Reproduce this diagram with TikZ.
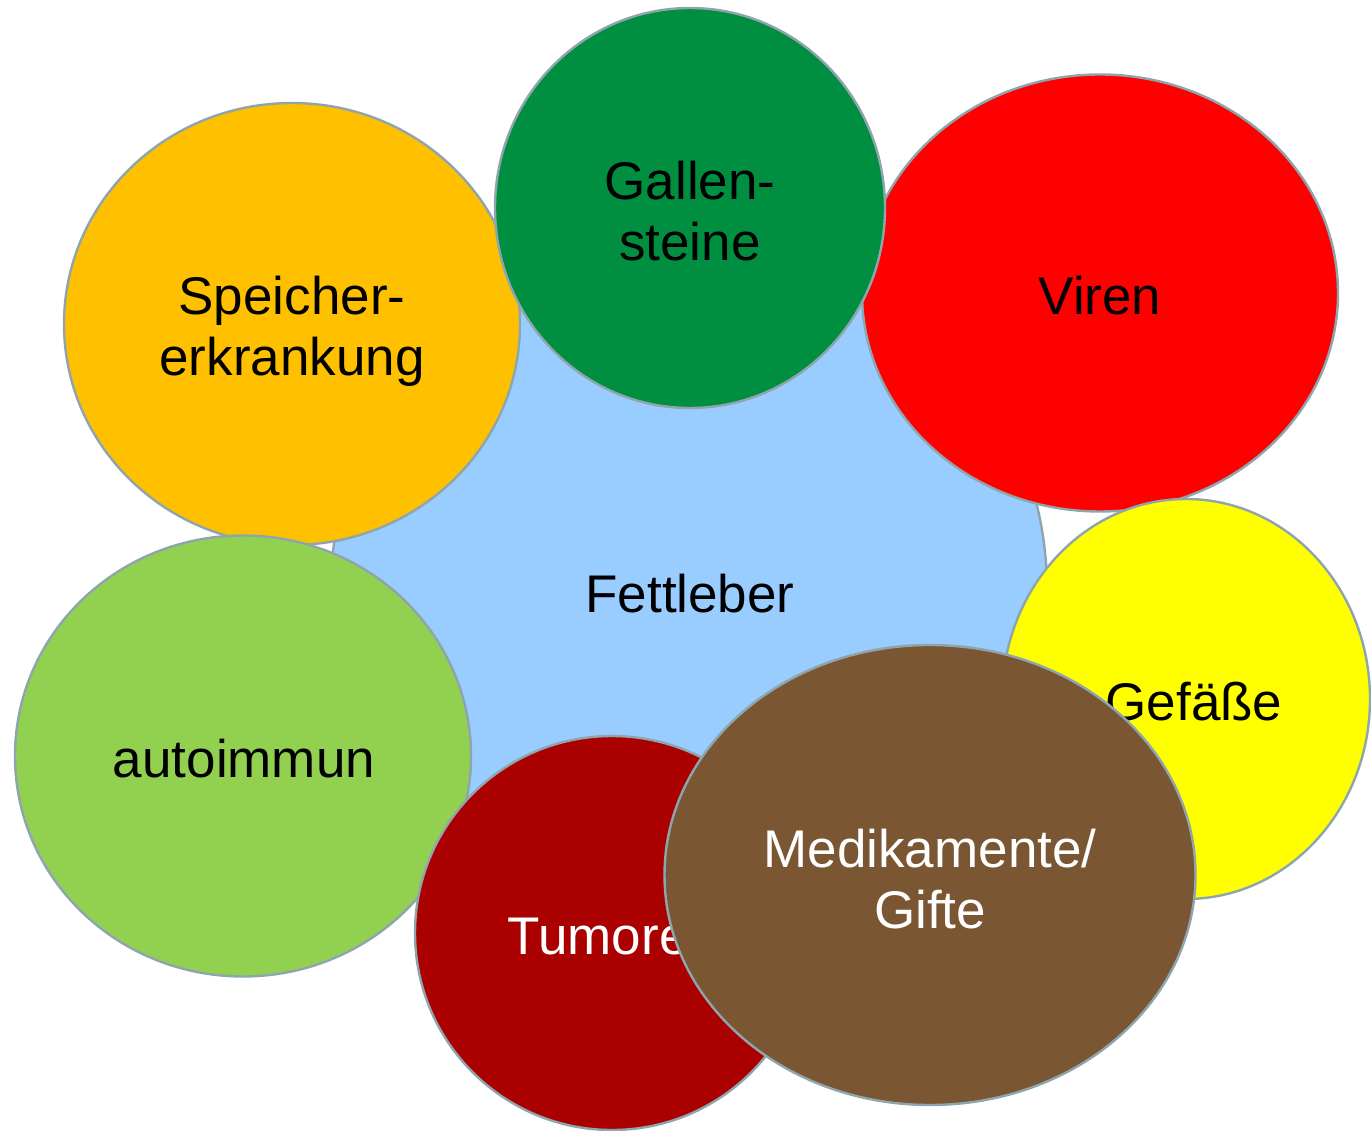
\documentclass[tikz,border=0pt]{standalone}
\usepackage{fontspec}
\setmainfont{Liberation Sans}
\usetikzlibrary{shapes.geometric}
\definecolor{edgecol}{RGB}{143,165,174}
\definecolor{cblue}{RGB}{153,204,255}
\definecolor{corange}{RGB}{255,192,0}
\definecolor{cgreen}{RGB}{0,142,64}
\definecolor{cred}{RGB}{255,0,0}
\definecolor{cyellow}{RGB}{255,255,0}
\definecolor{clgreen}{RGB}{146,208,80}
\definecolor{cdred}{RGB}{170,0,0}
\definecolor{cbrown}{RGB}{122,87,50}
\tikzset{
  blob/.style={ellipse, draw=edgecol, line width=2.4pt, inner sep=0pt, outer sep=0pt},
  lbl/.style={align=center, inner sep=0pt, font=\fontsize{53}{61}\selectfont},
}
\begin{document}
\begin{tikzpicture}[x=1pt,y=-1pt]
\useasboundingbox (0,0) rectangle (1371,1131);
\node[blob, fill=cblue, minimum width=716pt, minimum height=716pt] (fett) at (689,590) {};
\node[blob, fill=corange, minimum width=456pt, minimum height=442pt] (speicher) at (292,324) {};
\node[lbl] (speicherlbl) at (292,331) {Speicher-\\erkrankung};
\node[blob, fill=cred, minimum width=476pt, minimum height=437pt] (viren) at (1100,293) {};
\node[lbl] (virenlbl) at (1100,296) {Viren};
\node[blob, fill=cgreen, minimum width=390pt, minimum height=400pt] (gallen) at (690,208) {};
\node[lbl] (gallenlbl) at (690,211) {Gallen-\\steine};
\node[blob, fill=clgreen, minimum width=456pt, minimum height=441pt] (auto) at (243,756) {};
\node[lbl] (autolbl) at (244,759) {autoimmun};
\node[blob, fill=cyellow, minimum width=368pt, minimum height=400pt] (gefaesse) at (1186,699) {};
\node[lbl] (gefaesselbl) at (1194,702) {Gefäße};
\node[blob, fill=cdred, minimum width=394pt, minimum height=394pt] (tumore) at (612,933) {};
\node[lbl, text=white] (tumorelbl) at (613,937) {Tumoren};
\node[blob, fill=cbrown, minimum width=531pt, minimum height=460pt] (medi) at (930,875) {};
\node[lbl, text=white] (medilbl) at (930,879) {Medikamente/\\Gifte};
\node[lbl] (fettlbl) at (690,594) {Fettleber};
\end{tikzpicture}
\end{document}
